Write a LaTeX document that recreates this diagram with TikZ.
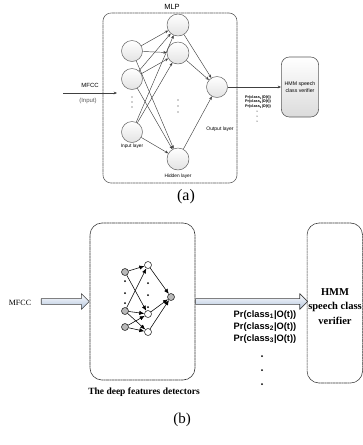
\documentclass[tikz,border=0pt]{standalone}
\usepackage{fontspec}
\setmainfont{Liberation Serif}
\setsansfont{Liberation Sans}
\usetikzlibrary{arrows.meta,shapes.arrows,positioning}

\tikzset{
  neuron/.style={circle,draw=gray!75!black,line width=0.5pt,top color=white,bottom color=gray!22,minimum size=21pt,inner sep=0pt},
  synapse/.style={draw=black!75,line width=0.45pt,-{Stealth[length=3.4pt,width=2.8pt]}},
  smalltxt/.style={font=\sffamily\fontsize{4.8}{5.5}\selectfont},
  dotbox/.style={draw=black!80,dash pattern=on 0.8pt off 0.35pt,line width=0.6pt,rounded corners=12pt,fill=white},
  dnode/.style={circle,draw=black,line width=0.5pt,fill=gray!55,minimum size=7pt,inner sep=0pt},
  hnode/.style={dnode,fill=white},
  dedge/.style={draw=black,line width=0.55pt,-{Latex[length=5pt,width=4.2pt]}},
  fatarrow/.style={single arrow,draw=black!75,line width=0.6pt,top color=white,
    bottom color={rgb,255:red,178;green,196;blue,222},inner sep=2.6pt,single arrow head extend=5pt},
  prlbl/.style={font=\sffamily\bfseries\fontsize{9.3}{12}\selectfont,align=center}
}

\begin{document}
\begin{tikzpicture}[x=1pt,y=-1pt,line join=round]
  \useasboundingbox (0,0) rectangle (363,445);
  % (a) MLP
  \node[font=\sffamily\fontsize{7.5}{8}\selectfont] (mlplbl) at (172,7) {MLP};
  \node[draw=gray!70!black,dash pattern=on 0.8pt off 0.35pt,line width=0.6pt,rounded corners=8pt,
    minimum width=134pt,minimum height=170pt] (mlp) at (170,98) {};
  \foreach \n/\y in {1/51,2/79,3/132}{\node[neuron] (in\n) at (132,\y) {};}
  \foreach \n/\y in {1/25,2/53,3/159}{\node[neuron,minimum size=22pt] (hid\n) at (178,\y) {};}
  \node[neuron] (out) at (217,87) {};
  \foreach \y in {97,102,107}{\fill[black!80] (132,\y) circle (0.7pt);}
  \foreach \y in {100,106,112}{\fill[black!80] (178,\y) circle (0.7pt);}
  \foreach \i in {1,2,3}{\foreach \h in {1,2,3}{\draw[synapse] (in\i) -- (hid\h);}}
  \foreach \h in {1,2,3}{\draw[synapse] (hid\h) -- (out);}
  \node[smalltxt] (inlbl) at (132,146) {Input layer};
  \node[smalltxt] (hidlbl) at (178,176) {Hidden layer};
  \node[smalltxt,font=\sffamily\fontsize{5}{6}\selectfont] (outlbl) at (220,129) {Output layer};
  % input side
  \node[font=\sffamily\fontsize{6}{7}\selectfont] (mfcca) at (90,85) {MFCC};
  \node[font=\sffamily\fontsize{6}{7}\selectfont,text=black!65] (inputa) at (88,101) {(Input)};
  \coordinate (srca) at (63,93);
  \coordinate (mlpin) at (117,93);
  \draw[synapse] (srca) -- (mlpin);
  % verifier side
  \node[draw=gray!70!black,line width=0.6pt,rounded corners=8pt,top color=white,bottom color=gray!28,
    minimum width=36pt,minimum height=60pt,align=center,font=\sffamily\fontsize{5.2}{7}\selectfont] (hmma) at (300,87) {HMM speech\\class verifier};
  \draw[synapse] (out) -- (hmma.west);
  \node[font=\sffamily\bfseries\fontsize{3.8}{4.7}\selectfont,align=center] (pra) at (258,102)
    {Pr(class\textsubscript{1}|O(t))\\Pr(class\textsubscript{2}|O(t))\\Pr(class\textsubscript{3}|O(t))};
  \foreach \y in {111,116,121}{\fill (257,\y) circle (0.5pt);}
  \node[font=\fontsize{16}{18}\selectfont] (capa) at (186,197) {(a)};

  % (b) deep features detectors
  \node[dotbox,minimum width=105pt,minimum height=157pt] (det) at (142.5,301.5) {};
  \node[dotbox,minimum width=55.5pt,minimum height=160pt] (hmmb) at (334.8,303) {};
  \node[font=\bfseries\fontsize{10.5}{14.5}\selectfont,align=center] (hmmtxt) at (335,306.5) {HMM\\speech class\\verifier};
  \node[font=\bfseries\fontsize{9.5}{11}\selectfont] (detlbl) at (144,392) {The deep features detectors};
  \foreach \n/\y in {1/272,2/311,3/327}{\node[dnode] (din\n) at (125,\y) {};}
  \foreach \n/\y in {1/265,2/314,3/332}{\node[hnode] (dhid\n) at (148,\y) {};}
  \node[dnode] (dout) at (171,297) {};
  \foreach \y in {281,293,303}{\fill (125,\y) circle (1pt);}
  \foreach \y in {283,295,307}{\fill (148,\y) circle (1pt);}
  \foreach \i/\h in {1/1,1/2,2/1,2/2,2/3,3/2,3/3}{\draw[dedge] (din\i) -- (dhid\h);}
  \foreach \h in {1,2,3}{\draw[dedge] (dhid\h) -- (dout);}
  \node[font=\fontsize{8}{9}\selectfont] (mfccb) at (20,303) {MFCC};
  \node[fatarrow,anchor=tip,minimum height=48pt] (inarrow) at (det.west) {};
  \node[fatarrow,anchor=tail,minimum height=112pt] (outarrow) at (det.east) {};
  \node[prlbl] (prb) at (265,327) {Pr(class\textsubscript{1}|O(t))\\Pr(class\textsubscript{2}|O(t))\\Pr(class\textsubscript{3}|O(t))};
  \foreach \y in {356,370,384}{\fill (262,\y) circle (1pt);}
  \node[font=\fontsize{15}{17}\selectfont] (capb) at (182,420) {(b)};
\end{tikzpicture}
\end{document}
